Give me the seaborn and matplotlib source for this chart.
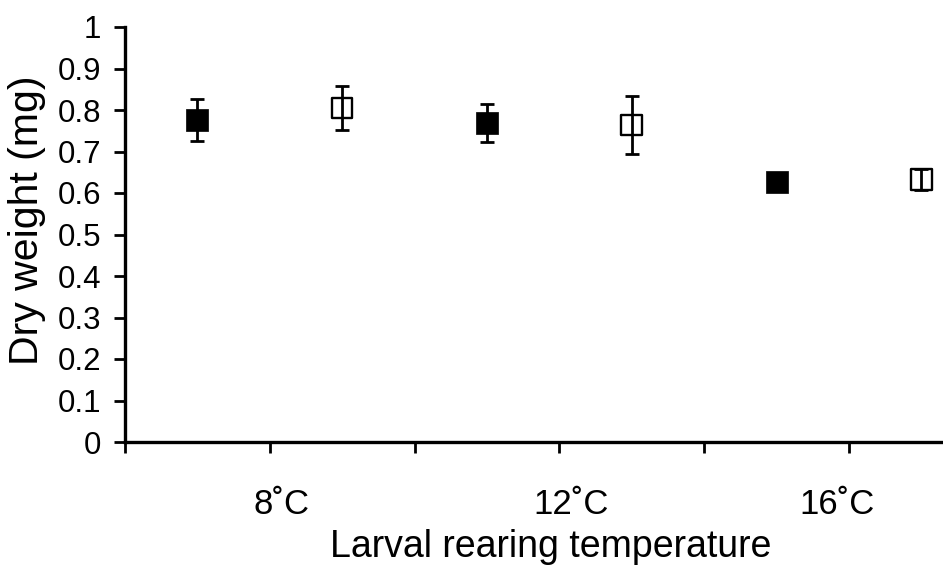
import matplotlib
matplotlib.use("Agg")
import matplotlib.pyplot as plt
import seaborn as sns
import pandas as pd

# data
temps = ["8˚C", "12˚C", "16˚C"]
filled_mean = [0.776, 0.769, 0.627]
filled_err = [0.051, 0.046, 0.008]
open_mean = [0.805, 0.764, 0.633]
open_err = [0.052, 0.069, 0.025]
yticks = [0, 0.1, 0.2, 0.3, 0.4, 0.5, 0.6, 0.7, 0.8, 0.9, 1]
ytick_labels = ["0", "0.1", "0.2", "0.3", "0.4", "0.5", "0.6", "0.7", "0.8", "0.9", "1"]

# each temperature takes two slots on the x axis: filled then open
pos_filled = [2 * i + 0.5 for i in range(len(temps))]
pos_open = [2 * i + 1.5 for i in range(len(temps))]
label_pos = [1.08, 3.08, 4.92]

df = pd.DataFrame({
    "x": pos_filled + pos_open,
    "y": filled_mean + open_mean,
    "err": filled_err + open_err,
    "group": ["filled"] * 3 + ["open"] * 3,
})

sns.set_style("ticks")
plt.rcParams["font.family"] = ["Liberation Sans", "DejaVu Sans"]
plt.rcParams["text.color"] = "black"
plt.rcParams["axes.labelcolor"] = "black"
plt.rcParams["xtick.color"] = "black"
plt.rcParams["ytick.color"] = "black"

fig = plt.figure(figsize=(9.43, 5.65), dpi=100)
ax = fig.add_axes([125 / 943, 123 / 565, 818 / 943, 415 / 565])

ax.errorbar(df["x"], df["y"], yerr=df["err"], fmt="none", ecolor="black",
            elinewidth=2, capsize=4.8, capthick=2, zorder=2)

fd = df[df["group"] == "filled"]
od = df[df["group"] == "open"]
sns.scatterplot(data=fd, x="x", y="y", marker="s", s=250, color="black",
                edgecolor="black", linewidth=0.5, ax=ax, zorder=3, legend=False)
sns.scatterplot(data=od, x="x", y="y", marker="s", s=220, facecolor="none",
                edgecolor="black", linewidth=1.7, ax=ax, zorder=3, legend=False)

ax.set_xlim(0, 5.65)
ax.set_ylim(0, 1)
ax.set_yticks(yticks)
ax.set_yticklabels(ytick_labels, fontsize=22.5)

ax.set_xticks(range(0, 6))
ax.set_xticklabels([])
ax.set_xticks(label_pos, minor=True)
ax.set_xticklabels(temps, minor=True, fontsize=25)
ax.tick_params(axis="x", which="minor", length=0, pad=33)
ax.tick_params(axis="both", which="major", direction="out", length=8, width=2, color="black")
ax.tick_params(axis="y", pad=9)

for side in ["top", "right"]:
    ax.spines[side].set_visible(False)
for side in ["left", "bottom"]:
    ax.spines[side].set_linewidth(2.4)
    ax.spines[side].set_color("black")

ax.set_xlabel("Larval rearing temperature", fontsize=27)
ax.xaxis.set_label_coords(0.52, -0.252)
ax.xaxis.label.set_va("center")
ax.set_ylabel("Dry weight (mg)", fontsize=29.5)
ax.yaxis.set_label_coords(-0.12, 0.535)
ax.yaxis.label.set_va("center")

fig.savefig("out.png", dpi=100)
